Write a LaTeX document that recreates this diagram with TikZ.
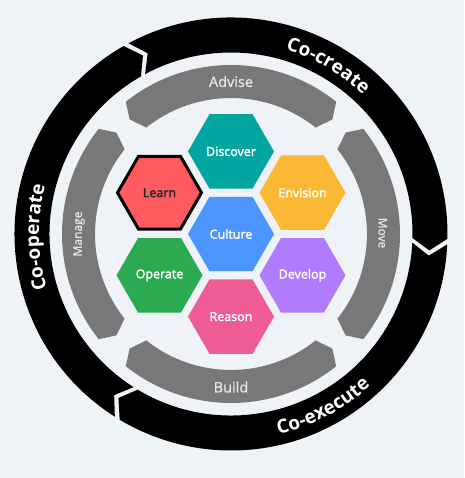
\documentclass[tikz,border=0pt]{standalone}
\usepackage{fontspec}
\setmainfont{Open Sans}
\newfontfamily\medfont{Open Sans}[FakeBold=1.2]
\newfontfamily\sbfont{Open Sans}[FakeBold=2.2]
\usetikzlibrary{shapes.geometric,decorations.text}
\definecolor{bg}{HTML}{EFF3F7}
\definecolor{ringgray}{HTML}{787878}
\definecolor{graytext}{HTML}{E6E6E6}
\definecolor{cteal}{HTML}{00A69F}
\definecolor{cred}{HTML}{FF5A60}
\definecolor{cgold}{HTML}{FBB834}
\definecolor{cblue}{HTML}{4C95FF}
\definecolor{cgreen}{HTML}{2BAA52}
\definecolor{cpurple}{HTML}{B07BFF}
\definecolor{cpink}{HTML}{EF5B95}
\newcommand{\ringfont}{\fontsize{19}{19}\selectfont\bfseries\color{white}}
\newcommand{\grayseg}[1]{%
  \fill[ringgray] ({#1+38.5}:169) arc[start angle={#1+38.5}, end angle={#1-38.5}, radius=169pt]
    -- ({#1-41.5}:153) -- ({#1-38.5}:136)
    arc[start angle={#1-38.5}, end angle={#1+38.5}, radius=136pt]
    -- ({#1+41.5}:153) -- cycle;}
\tikzset{
  hex/.style={regular polygon, regular polygon sides=6, minimum size=86pt, inner sep=0pt,
    font=\sbfont\fontsize{12.5}{12.5}\selectfont, text=white},
  bigband/.style={font=\medfont\fontsize{14.5}{14.5}\selectfont, text=graytext, inner sep=0pt},
  sideband/.style={font=\medfont\fontsize{12}{12}\selectfont, text=graytext, inner sep=0pt},
}
\begin{document}
\begin{tikzpicture}[x=1pt,y=1pt]
\fill[bg] (-231,-244) rectangle (233,234);
\useasboundingbox (-231,-244) rectangle (233,234);
% black outer ring: three chevron segments
\fill[black] (118.25:216.5) arc[start angle=118.25, end angle=-1.25, radius=216.5pt]
  -- (-4.75:199) -- (-1.25:181.5) arc[start angle=-1.25, end angle=118.25, radius=181.5pt]
  -- (114.75:199) -- cycle;
\fill[black] (-2.75:216.5) arc[start angle=-2.75, end angle=-120.95, radius=216.5pt]
  -- (-124.45:199) -- (-120.95:181.5) arc[start angle=-120.95, end angle=-2.75, radius=181.5pt]
  -- (-6.25:199) -- cycle;
\fill[black] (237.55:216.5) arc[start angle=237.55, end angle=119.75, radius=216.5pt]
  -- (116.25:199) -- (119.75:181.5) arc[start angle=119.75, end angle=237.55, radius=181.5pt]
  -- (234.05:199) -- cycle;
% ring labels
\path[decorate, decoration={text along path, text={|\ringfont|Co-create}, text align=center}]
  (100:192) arc[start angle=100, end angle=20, radius=192pt];
\path[decorate, decoration={text along path, text={|\ringfont|Co-operate}, text align=center}]
  (221:192) arc[start angle=221, end angle=141, radius=192pt];
\path[decorate, decoration={text along path, text={|\ringfont|Co-execute}, text align=center}]
  (-102:206) arc[start angle=-102, end angle=-22, radius=206pt];
% gray ring
\grayseg{90}
\grayseg{180}
\grayseg{270}
\grayseg{0}
\node[bigband] (advise) at (0,152.5) {Advise};
\node[bigband] (build) at (0,-153) {Build};
\node[sideband, rotate=90] (manage) at (-152,0) {Manage};
\node[sideband, rotate=-90] (move) at (151.7,1) {Move};
% hexagons
\node[hex, fill=cblue] (culture) at (0,0) {Culture};
\node[hex, fill=cteal] (discover) at (0,82.6) {Discover};
\node[hex, fill=cpink] (reason) at (0,-82.6) {Reason};
\node[hex, fill=cgold] (envision) at (71.5,41.3) {Envision};
\node[hex, fill=cpurple] (develop) at (71.5,-41.3) {Develop};
\node[hex, fill=cgreen] (operate) at (-71.5,-41.3) {Operate};
\node[hex, fill=cred, draw=black, line width=3pt, minimum size=84pt, text=black!85] (learn) at (-71.5,41.3) {Learn};
\end{tikzpicture}
\end{document}
